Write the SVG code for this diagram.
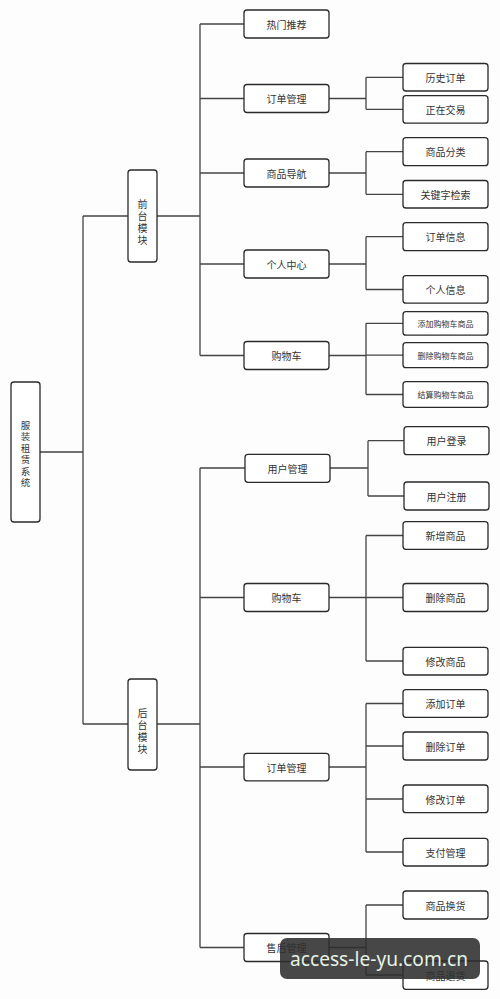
<svg xmlns="http://www.w3.org/2000/svg" width="500" height="999" viewBox="0 0 500 999">
<style>
.bg{fill:#fdfdfd}
.n rect{fill:#fff;stroke:#2a2a2a;stroke-width:1.3}
.n text{font-family:"Noto Sans CJK SC","Noto Sans",sans-serif;font-size:10px;fill:#333;text-anchor:middle;dominant-baseline:central}
.n text.s{font-size:8px}
.n text.vt{writing-mode:vertical-rl;letter-spacing:2px}
#conn path{fill:none;stroke:#444;stroke-width:1.3;stroke-linejoin:round}
.wm rect{fill:#2e2e2e;fill-opacity:0.88}
.wm text{font-family:"Noto Sans","DejaVu Sans",sans-serif;font-size:20px;fill:#e4f2e4}
</style>
<rect class="bg" x="0" y="0" width="500" height="999"/>
<g id="conn">
<!-- root -->
<path d="M40,452 H83 M83,216 V724 M83,216 H128 M83,724 H128"/>
<!-- front -->
<path d="M157,216 H200 M200,24 V355.5 M200,24 H244 M200,98.5 H244 M200,173 H244 M200,264 H244 M200,355.5 H244"/>
<path d="M329,98.5 H366 M366,77.3 V109.3 M366,77.3 H403 M366,109.3 H403"/>
<path d="M329,173 H366 M366,151.7 V194.3 M366,151.7 H403 M366,194.3 H403"/>
<path d="M329,264 H366 M366,236.7 V289.5 M366,236.7 H403 M366,289.5 H403"/>
<path d="M329,355.5 H366 M366,323.3 V394.5 M366,323.3 H403 M366,355.2 H403 M366,394.5 H403"/>
<!-- back -->
<path d="M157,724 H200 M200,468 V947.5 M200,468 H245 M200,597.5 H244 M200,767 H244 M200,947.5 H244"/>
<path d="M330,468 H368 M368,440.7 V496 M368,440.7 H404 M368,496 H404"/>
<path d="M329,597.5 H366 M366,535.5 V661 M366,535.5 H403 M366,597.5 H403 M366,661 H403"/>
<path d="M329,767 H366 M366,703.5 V852 M366,703.5 H403 M366,746 H403 M366,799 H403 M366,852 H403"/>
<path d="M329,947.5 H366 M366,905 V975 M366,905 H403 M366,975 H403"/>
</g>
<g id="root" class="n"><rect x="11" y="382" width="29" height="140" rx="3"/>
<text class="vt" x="25.5" y="455" style="font-size:9.5px">服装租赁系统</text></g>
<g id="front" class="n"><rect x="128" y="170" width="29" height="92" rx="3"/>
<text class="vt" x="142.5" y="223">前台模块</text></g>
<g id="back" class="n"><rect x="128" y="679" width="29" height="91" rx="3"/>
<text class="vt" x="142.5" y="732">后台模块</text></g>

<g id="f1" class="n"><rect x="244" y="10" width="85" height="28" rx="3"/><text x="286.5" y="24">热门推荐</text></g>
<g id="f2" class="n"><rect x="244" y="84.5" width="85" height="28" rx="3"/><text x="286.5" y="98.5">订单管理</text></g>
<g id="f3" class="n"><rect x="244" y="159" width="85" height="28" rx="3"/><text x="286.5" y="173">商品导航</text></g>
<g id="f4" class="n"><rect x="244" y="250" width="85" height="28" rx="3"/><text x="286.5" y="264">个人中心</text></g>
<g id="f5" class="n"><rect x="244" y="341.5" width="85" height="28" rx="3"/><text x="286.5" y="355.5">购物车</text></g>

<g id="f2a" class="n"><rect x="403" y="63.5" width="85" height="27.5" rx="3"/><text x="445.5" y="77.3">历史订单</text></g>
<g id="f2b" class="n"><rect x="403" y="95.7" width="85" height="27.5" rx="3"/><text x="445.5" y="109.3">正在交易</text></g>
<g id="f3a" class="n"><rect x="403" y="137.7" width="85" height="28" rx="3"/><text x="445.5" y="151.7">商品分类</text></g>
<g id="f3b" class="n"><rect x="403" y="180.5" width="85" height="27.5" rx="3"/><text x="445.5" y="194.3">关键字检索</text></g>
<g id="f4a" class="n"><rect x="403" y="222.7" width="85" height="28" rx="3"/><text x="445.5" y="236.7">订单信息</text></g>
<g id="f4b" class="n"><rect x="403" y="275.7" width="85" height="27.5" rx="3"/><text x="445.5" y="289.5">个人信息</text></g>
<g id="f5a" class="n"><rect x="403" y="311.7" width="85" height="23.5" rx="3"/><text class="s" x="445.5" y="323.3">添加购物车商品</text></g>
<g id="f5b" class="n"><rect x="403" y="342.7" width="85" height="25" rx="3"/><text class="s" x="445.5" y="355.2">删除购物车商品</text></g>
<g id="f5c" class="n"><rect x="403" y="381.7" width="85" height="25.6" rx="3"/><text class="s" x="445.5" y="394.5">结算购物车商品</text></g>

<g id="b1" class="n"><rect x="245" y="454.3" width="85" height="28" rx="3"/><text x="287.5" y="468">用户管理</text></g>
<g id="b2" class="n"><rect x="244" y="583.5" width="85" height="28" rx="3"/><text x="286.5" y="597.5">购物车</text></g>
<g id="b3" class="n"><rect x="244" y="753.3" width="85" height="27.5" rx="3"/><text x="286.5" y="767">订单管理</text></g>
<g id="b4" class="n"><rect x="244" y="933.5" width="85" height="28" rx="3"/><text x="286.5" y="947.5">售后管理</text></g>

<g id="b1a" class="n"><rect x="404" y="426.7" width="85" height="28" rx="3"/><text x="446.5" y="440.7">用户登录</text></g>
<g id="b1b" class="n"><rect x="404" y="482" width="85" height="28" rx="3"/><text x="446.5" y="496">用户注册</text></g>
<g id="b2a" class="n"><rect x="403" y="521.7" width="85" height="27.6" rx="3"/><text x="445.5" y="535.5">新增商品</text></g>
<g id="b2b" class="n"><rect x="403" y="583.5" width="85" height="28" rx="3"/><text x="445.5" y="597.5">删除商品</text></g>
<g id="b2c" class="n"><rect x="403" y="647.3" width="85" height="27.7" rx="3"/><text x="445.5" y="661">修改商品</text></g>
<g id="b3a" class="n"><rect x="403" y="689.7" width="85" height="27.6" rx="3"/><text x="445.5" y="703.5">添加订单</text></g>
<g id="b3b" class="n"><rect x="403" y="732" width="85" height="28" rx="3"/><text x="445.5" y="746">删除订单</text></g>
<g id="b3c" class="n"><rect x="403" y="785" width="85" height="27.7" rx="3"/><text x="445.5" y="799">修改订单</text></g>
<g id="b3d" class="n"><rect x="403" y="838.3" width="85" height="27.7" rx="3"/><text x="445.5" y="852">支付管理</text></g>
<g id="b4a" class="n"><rect x="403" y="891" width="85" height="28" rx="3"/><text x="445.5" y="905">商品换货</text></g>
<g id="b4b" class="n"><rect x="403" y="961" width="85" height="28.3" rx="3"/><text x="445.5" y="975">商品退货</text></g>

<g class="wm"><rect x="280" y="938" width="200" height="41" rx="7"/><text x="290" y="966" textLength="178" lengthAdjust="spacingAndGlyphs">access-le-yu.com.cn</text></g>
</svg>
